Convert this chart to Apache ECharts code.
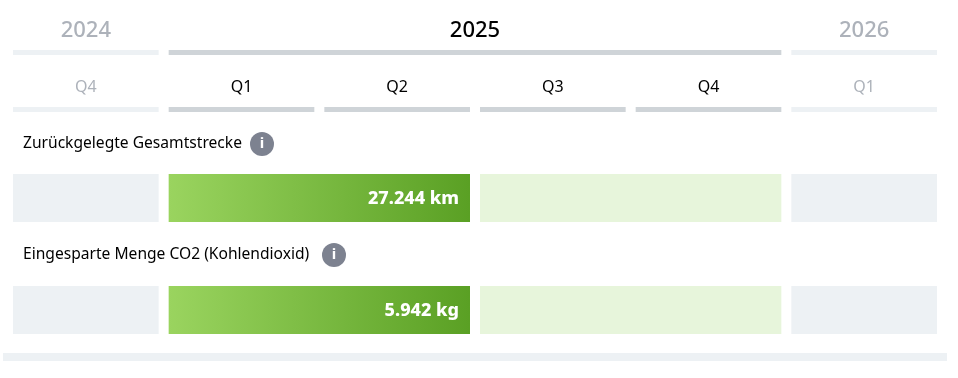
<!DOCTYPE html>
<html>
<head>
<meta charset="utf-8">
<style>
  html, body { margin: 0; padding: 0; background: #fff; }
  #chart { width: 958px; height: 378px; }
</style>
<script src="https://cdn.jsdelivr.net/npm/echarts@6/dist/echarts.min.js"></script>
</head>
<body>
<div id="chart"></div>
<script>
// spans are counted in quarters, 0 = Q4 2024
const years = ["2024", "2025", "2026"];
const yearSpans = [[0, 1], [1, 5], [5, 6]];
const yearActive = [false, true, false];

const quarters = ["Q4", "Q1", "Q2", "Q3", "Q4", "Q1"];
const quarterActive = [false, true, true, true, true, false];

const rowTitles = ["Zurückgelegte Gesamtstrecke", "Eingesparte Menge CO2 (Kohlendioxid)"];
const rowValues = ["27.244 km", "5.942 kg"];
const rowSpans = [[0, 1], [1, 3], [3, 5], [5, 6]];
const rowKinds = ["empty", "filled", "remaining", "empty"];

const font = '"Noto Sans", sans-serif';
const GAP = 5;

const chart = echarts.init(document.getElementById("chart"));

const fill = new echarts.graphic.LinearGradient(0, 0, 1, 0, [
  { offset: 0, color: "#9AD45F" },
  { offset: 1, color: "#5AA024" },
]);
const kindColors = { empty: "#EDF1F4", remaining: "#E7F5DB", filled: fill };

// one rect per span, the text sits above the strip (header) or inside it (rows)
function renderSpan(params, api) {
  const start = api.coord([api.value(0), 0]);
  const end = api.coord([api.value(1), 0]);
  const top = params.coordSys.y;
  const height = params.coordSys.height;
  const x = start[0] + GAP;
  const width = end[0] - start[0] - GAP * 2;
  const d = params.context.items[params.dataIndex];
  const children = [{
    type: "rect",
    shape: { x, y: top, width, height },
    style: { fill: d.color },
  }];
  if (d.label) {
    children.push({
      type: "text",
      style: {
        x: x + width / 2,
        y: top - d.labelOffset,
        text: d.label,
        fill: d.textColor,
        font: d.font,
        align: "center",
        verticalAlign: "middle",
      },
    });
  }
  if (d.value) {
    children.push({
      type: "text",
      style: {
        x: x + width - 11,
        y: top + height / 2 + 1,
        text: d.value,
        fill: "#fff",
        font: '800 18px ' + font,
        align: "right",
        verticalAlign: "middle",
      },
    });
  }
  return { type: "group", children };
}

function spanSeries(index, items) {
  return {
    type: "custom",
    xAxisIndex: index,
    yAxisIndex: index,
    encode: { x: [0, 1], y: 2 },
    silent: true,
    data: items.map((d) => [d.span[0], d.span[1], 0]),
    renderItem: (params, api) => {
      params.context.items = items;
      return renderSpan(params, api);
    },
  };
}

const yearItems = years.map((y, i) => ({
  span: yearSpans[i],
  color: yearActive[i] ? "#CFD4D8" : "#EDF1F4",
  label: y,
  labelOffset: 19,
  textColor: yearActive[i] ? "#000" : "#ADB2BA",
  font: "500 22px " + font,
}));

const quarterItems = quarters.map((q, i) => ({
  span: [i, i + 1],
  color: quarterActive[i] ? "#CFD4D8" : "#EDF1F4",
  label: q,
  labelOffset: 20,
  textColor: quarterActive[i] ? "#000" : "#ADB2BA",
  font: "16px " + font,
}));

function rowItems(value) {
  return rowSpans.map((span, i) => ({
    span,
    color: kindColors[rowKinds[i]],
    value: rowKinds[i] === "filled" ? value : null,
  }));
}

const strips = [
  { top: 50, height: 5, items: yearItems },
  { top: 107, height: 5, items: quarterItems },
  { top: 174, height: 48, items: rowItems(rowValues[0]) },
  { top: 286, height: 48, items: rowItems(rowValues[1]) },
];

const titleTops = [132, 243];
const titleWidths = [227, 299];

const options = {
  animation: false,
  backgroundColor: "#fff",
  title: rowTitles.map((t, i) => ({
    text: "{t|" + t + "}{i|i}",
    left: 18,
    top: titleTops[i],
    padding: [0, 5],
    textStyle: {
      rich: {
        t: {
          fontFamily: font,
          fontSize: 15.6,
          fontWeight: "normal",
          color: "#000",
          width: titleWidths[i],
          height: 24,
          lineHeight: 24,
        },
        i: {
          fontFamily: font,
          fontSize: 15,
          fontWeight: 700,
          color: "#fff",
          backgroundColor: "#7D8290",
          borderRadius: 12,
          width: 24,
          height: 24,
          lineHeight: 24,
          align: "center",
        },
      },
    },
  })),
  grid: strips.map((s) => ({ left: 8, width: 934, top: s.top, height: s.height })),
  xAxis: strips.map((s, i) => ({ type: "value", gridIndex: i, min: 0, max: 6, show: false })),
  yAxis: strips.map((s, i) => ({ type: "category", gridIndex: i, data: [""], show: false })),
  series: strips.map((s, i) => spanSeries(i, s.items)),
  graphic: [{
    type: "rect",
    shape: { x: 3, y: 353, width: 944, height: 8 },
    style: { fill: "#EDF1F4" },
  }],
};

chart.setOption(options);
</script>
</body>
</html>
